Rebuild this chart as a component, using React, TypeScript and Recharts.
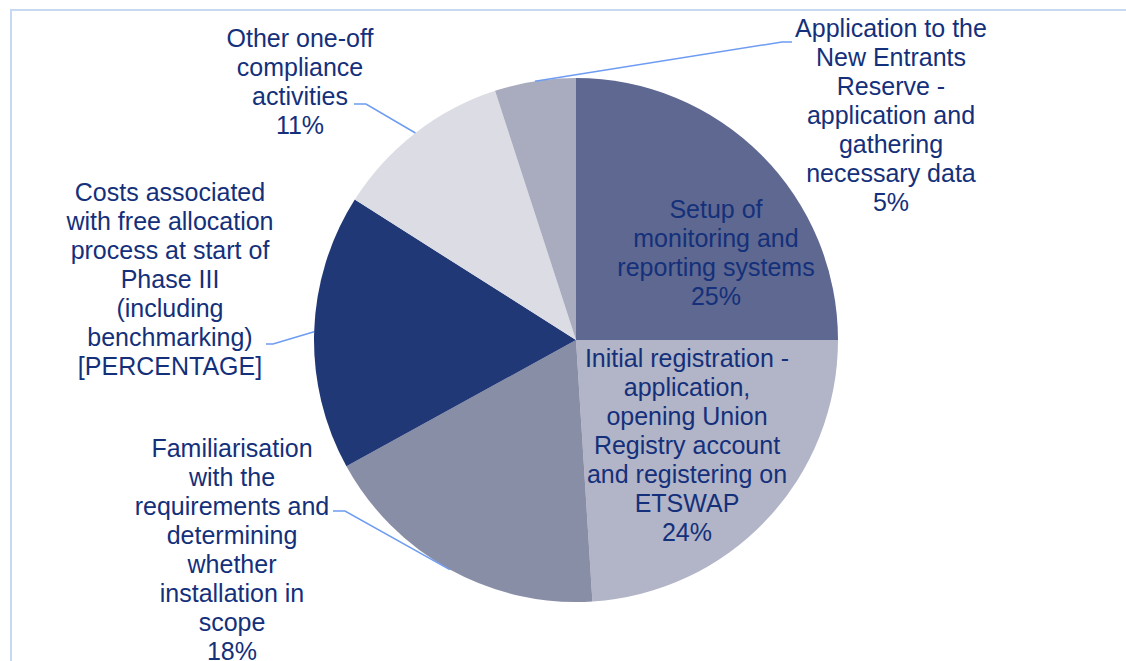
import React from 'react';
import { PieChart, Pie, Cell } from 'recharts';

// slices in clockwise order, starting at 12 o'clock
const categories = [
  'Setup of monitoring and reporting systems',
  'Initial registration - application, opening Union Registry account and registering on ETSWAP',
  'Familiarisation with the requirements and determining whether installation in scope',
  'Costs associated with free allocation process at start of Phase III (including benchmarking)',
  'Other one-off compliance activities',
  'Application to the New Entrants Reserve - application and gathering necessary data',
];
const shares = [25, 24, 18, 17, 11, 5];
const shareLabels = ['25%', '24%', '18%', '[PERCENTAGE]', '11%', '5%'];

// how each category name wraps in the picture
const labelLines = [
  ['Setup of', 'monitoring and', 'reporting systems'],
  ['Initial registration -', 'application,', 'opening Union', 'Registry account', 'and registering on', 'ETSWAP'],
  ['Familiarisation', 'with the', 'requirements and', 'determining', 'whether', 'installation in', 'scope'],
  ['Costs associated', 'with free allocation', 'process at start of', 'Phase III', '(including', 'benchmarking)'],
  ['Other one-off', 'compliance', 'activities'],
  ['Application to the', 'New Entrants', 'Reserve -', 'application and', 'gathering', 'necessary data'],
];

const COLORS = ['#5e6890', '#b2b4c7', '#898ea7', '#213877', '#dcdde4', '#a9abbf'];
const TEXT = '#14307a';
const LEADER = '#6d9cf2';
const LINE_H = 29;

// label placement relative to the pie centre: text x, first baseline, and optional leader elbow/end
const layout = [
  { dx: 140, dy: -122 },
  { dx: 111, dy: 27 },
  { dx: -344, dy: 117, elbow: [-231, 171], end: [-243, 171] },
  { dx: -406, dy: -139, elbow: [-303, 4], end: [-310, 4] },
  { dx: -276, dy: -293, elbow: [-210, -236], end: [-222, -236] },
  { dx: 315, dy: -303, elbow: [206, -298], end: [216, -298] },
];

const data = categories.map((name, i) => ({ name, value: shares[i] }));

const RAD = Math.PI / 180;

const renderLabel = (props: any) => {
  const { cx, cy, midAngle, outerRadius, index } = props;
  const lay = layout[index];
  const lines = [...labelLines[index], shareLabels[index]];
  const tx = cx + lay.dx;
  const ty = cy + lay.dy;
  let leader = null;
  if (lay.elbow) {
    const sx = cx + outerRadius * Math.cos(-midAngle * RAD);
    const sy = cy + outerRadius * Math.sin(-midAngle * RAD);
    const pts = `${sx},${sy} ${cx + lay.elbow[0]},${cy + lay.elbow[1]} ${cx + lay.end[0]},${cy + lay.end[1]}`;
    leader = <polyline points={pts} fill="none" stroke={LEADER} strokeWidth={1.5} />;
  }
  return (
    <g key={`lbl-${index}`}>
      {leader}
      <text
        x={tx}
        y={ty}
        textAnchor="middle"
        fill={TEXT}
        fontSize={25}
        fontFamily="'Liberation Sans', Arial, sans-serif"
      >
        {lines.map((l, i) => (
          <tspan key={i} x={tx} y={ty + i * LINE_H}>
            {l}
          </tspan>
        ))}
      </text>
    </g>
  );
};

export default function App() {
  return (
    <div
      style={{
        position: 'absolute',
        left: 0,
        top: 0,
        width: 1126,
        height: 661,
        overflow: 'hidden',
        background: '#fff',
      }}
    >
      <div
        style={{
          position: 'absolute',
          left: 10,
          top: 9,
          width: 1300,
          height: 900,
          border: '2px solid #c6d9f1',
        }}
      />
      <div style={{ position: 'absolute', left: 0, top: 0 }}>
        <PieChart width={1126} height={661} margin={{ top: 0, right: 0, bottom: 0, left: 0 }}>
          <Pie
            data={data}
            dataKey="value"
            nameKey="name"
            cx={576}
            cy={340}
            outerRadius={262}
            startAngle={90}
            endAngle={-270}
            stroke="none"
            label={renderLabel}
            labelLine={false}
            isAnimationActive={false}
          >
            {data.map((d, i) => (
              <Cell key={d.name} fill={COLORS[i]} />
            ))}
          </Pie>
        </PieChart>
      </div>
    </div>
  );
}
